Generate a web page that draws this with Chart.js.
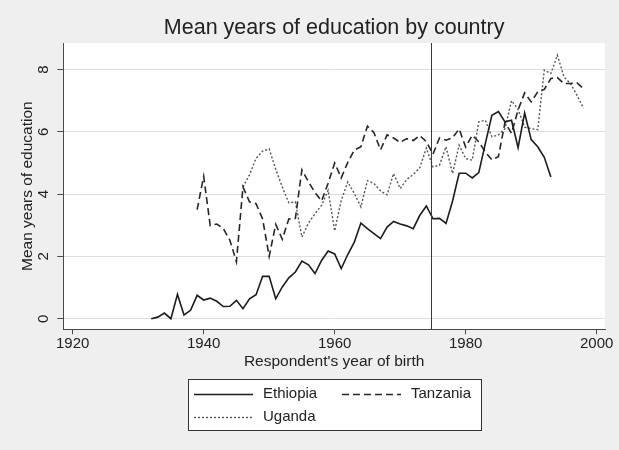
<!DOCTYPE html>
<html>
<head>
<meta charset="utf-8">
<script src="https://cdn.jsdelivr.net/npm/chart.js@4.4.1/dist/chart.umd.min.js"></script>
<style>
  html, body { margin: 0; padding: 0; background: #efefef; }
  #wrap { width: 619px; height: 450px; }
</style>
</head>
<body>
<div id="wrap"><canvas id="eduChart" width="619" height="450"></canvas></div>
<script>
// Mean years of education by birth cohort, one value per birth year
const ethiopiaStart = 1932;
const ethiopia = [
  0, 0.05, 0.18, 0, 0.78, 0.12, 0.27, 0.75, 0.6, 0.66,
  0.56, 0.39, 0.4, 0.59, 0.32, 0.64, 0.77, 1.36, 1.36, 0.64,
  1.02, 1.31, 1.5, 1.85, 1.73, 1.45, 1.87, 2.17, 2.08, 1.61,
  2.06, 2.46, 3.07, 2.89, 2.73, 2.57, 2.94, 3.12, 3.04, 2.98,
  2.89, 3.32, 3.62, 3.21, 3.22, 3.06, 3.78, 4.67, 4.67, 4.52,
  4.69, 5.62, 6.53, 6.65, 6.32, 6.37, 5.49, 6.6, 5.75, 5.52,
  5.18, 4.55
];

const tanzaniaStart = 1939;
const tanzania = [
  3.5, 4.57, 2.99, 3.04, 2.89, 2.52, 1.83, 4.23, 3.75, 3.69,
  3.2, 2.0, 3.03, 2.55, 3.2, 3.22, 4.78, 4.39, 4.05, 3.78,
  4.35, 5.0, 4.52, 5.02, 5.41, 5.52, 6.18, 5.97, 5.42, 5.9,
  5.8, 5.66, 5.78, 5.72, 5.88, 5.68, 5.28, 5.8, 5.73, 5.81,
  6.09, 5.51, 5.89, 5.68, 5.35, 5.1, 5.2, 6.3, 5.95, 6.7,
  7.25, 6.96, 7.28, 7.36, 7.71, 7.74, 7.55, 7.55, 7.57, 7.38
];

const ugandaStart = 1946;
const uganda = [
  4.23, 4.62, 5.15, 5.38, 5.45, 4.8, 4.23, 3.72, 3.75, 2.62,
  3.07, 3.37, 3.64, 4.12, 2.82, 3.8, 4.39, 4.02, 3.59, 4.43,
  4.34, 4.1, 3.98, 4.66, 4.18, 4.47, 4.63, 4.85, 5.48, 4.87,
  4.93, 5.52, 4.66, 5.57, 5.14, 5.09, 6.32, 6.37, 5.84, 5.9,
  6.1, 7.0, 6.72, 6.15, 6.1, 6.07, 7.98, 7.87, 8.46, 7.76,
  7.55, 7.17, 6.75
];

const xTicks = [1920, 1940, 1960, 1980, 2000];
const yTicks = [0, 2, 4, 6, 8];
const cutoffYear = 1974.7;

const FONT = "'Liberation Sans', Arial, Helvetica, sans-serif";
const TEXT = "#222222";
const AXIS = "#4a4a4a";

// turn a start year + values into {x, y} points
function toPoints(start, values) {
  return values.map((v, i) => ({ x: start + i, y: v }));
}

// grey graph region, white plot region
const plotBackground = {
  id: "plotBackground",
  beforeDraw(chart) {
    const { ctx, chartArea: a } = chart;
    ctx.save();
    ctx.fillStyle = "#efefef";
    ctx.fillRect(0, 0, chart.width, chart.height);
    ctx.fillStyle = "#ffffff";
    ctx.fillRect(a.left, a.top, a.right - a.left, a.bottom - a.top);
    ctx.restore();
  }
};

// vertical reference line at the cutoff cohort
const cutoffLine = {
  id: "cutoffLine",
  afterDatasetsDraw(chart) {
    const { ctx, chartArea: a, scales } = chart;
    const x = Math.round(scales.x.getPixelForValue(cutoffYear)) + 0.5;
    ctx.save();
    ctx.strokeStyle = "#3a3a3a";
    ctx.lineWidth = 1;
    ctx.beginPath();
    ctx.moveTo(x, a.top);
    ctx.lineTo(x, a.bottom);
    ctx.stroke();
    ctx.restore();
  }
};

// boxed legend under the x axis title, two columns
const boxLegend = {
  id: "boxLegend",
  afterDraw(chart) {
    const { ctx } = chart;
    const box = { left: 188.5, top: 379.5, width: 293, height: 51 };
    const slots = [
      { x: 194, y: 394 },
      { x: 342, y: 394 },
      { x: 194, y: 417 }
    ];
    ctx.save();
    ctx.fillStyle = "#ffffff";
    ctx.fillRect(box.left, box.top, box.width, box.height);
    ctx.strokeStyle = "#333333";
    ctx.lineWidth = 1;
    ctx.strokeRect(box.left, box.top, box.width, box.height);
    ctx.font = "15px " + FONT;
    ctx.textBaseline = "middle";
    ctx.fillStyle = TEXT;
    chart.data.datasets.forEach((ds, i) => {
      const s = slots[i];
      ctx.save();
      ctx.strokeStyle = ds.borderColor;
      ctx.lineWidth = ds.borderWidth;
      ctx.setLineDash(ds.borderDash || []);
      ctx.beginPath();
      ctx.moveTo(s.x, s.y + 0.5);
      ctx.lineTo(s.x + 59, s.y + 0.5);
      ctx.stroke();
      ctx.restore();
      ctx.fillText(ds.label, s.x + 69, s.y);
    });
    ctx.restore();
  }
};

new Chart(document.getElementById("eduChart"), {
  type: "line",
  data: {
    datasets: [
      {
        label: "Ethiopia",
        data: toPoints(ethiopiaStart, ethiopia),
        borderColor: "#1c1c1c",
        borderWidth: 1.6,
        borderDash: []
      },
      {
        label: "Tanzania",
        data: toPoints(tanzaniaStart, tanzania),
        borderColor: "#262626",
        borderWidth: 1.6,
        borderDash: [7, 4]
      },
      {
        label: "Uganda",
        data: toPoints(ugandaStart, uganda),
        borderColor: "#555555",
        borderWidth: 1.4,
        borderDash: [2, 2]
      }
    ]
  },
  options: {
    responsive: false,
    animation: false,
    devicePixelRatio: 1,
    elements: {
      point: { radius: 0 },
      line: { tension: 0, fill: false }
    },
    layout: { padding: { left: 0, right: 14, top: 0, bottom: 78 } },
    plugins: {
      legend: { display: false },
      tooltip: { enabled: false },
      title: {
        display: true,
        text: "Mean years of education by country",
        fullSize: false,
        color: TEXT,
        font: { family: FONT, size: 21.5, weight: "normal" },
        padding: { top: 15.6, bottom: 1.6 }
      }
    },
    scales: {
      x: {
        type: "linear",
        min: 1918.57,
        max: 2001.27,
        afterBuildTicks: (scale) => { scale.ticks = xTicks.map(v => ({ value: v })); },
        afterFit: (scale) => { scale.height = 42.7; },
        border: { display: true, color: AXIS, width: 1 },
        grid: { drawOnChartArea: false, drawTicks: true, tickLength: 5, tickColor: AXIS },
        ticks: {
          color: TEXT,
          font: { family: FONT, size: 15 },
          padding: 1,
          maxRotation: 0,
          callback: (v) => String(v)
        },
        title: {
          display: true,
          text: "Respondent's year of birth",
          color: TEXT,
          font: { family: FONT, size: 15.5 },
          padding: { top: 0, bottom: 1 }
        }
      },
      y: {
        type: "linear",
        min: -0.34,
        max: 8.85,
        afterBuildTicks: (scale) => { scale.ticks = yTicks.map(v => ({ value: v })); },
        afterFit: (scale) => { scale.width = 63.3; },
        border: { display: true, color: AXIS, width: 1 },
        grid: { color: "#dedede", lineWidth: 1, drawTicks: true, tickLength: 6, tickColor: AXIS },
        ticks: {
          color: TEXT,
          font: { family: FONT, size: 15 },
          padding: 9.7,
          minRotation: 90,
          maxRotation: 90,
          crossAlign: "center",
          callback: (v) => String(v)
        },
        title: {
          display: true,
          text: "Mean years of education",
          color: TEXT,
          font: { family: FONT, size: 15.5 },
          padding: { top: 18.4, bottom: 0 }
        }
      }
    }
  },
  plugins: [plotBackground, cutoffLine, boxLegend]
});
</script>
</body>
</html>
